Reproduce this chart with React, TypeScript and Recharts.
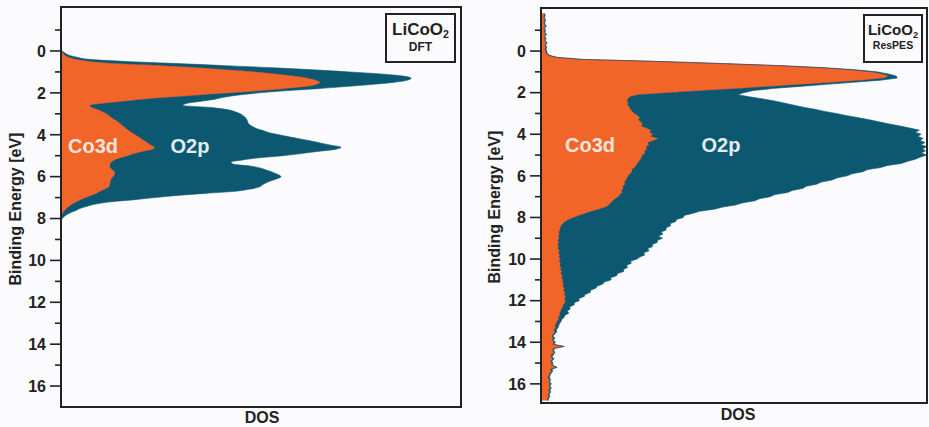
import React from "react";
import { AreaChart, Area, XAxis, YAxis, ReferenceArea } from "recharts";

// Energy grid: 0.1 eV steps starting at the first value
const E_STEP = 0.1;

// DFT projected DOS (arbitrary units, 0-100)
const DFT_E0 = -0.1;
const dftCo3d = [
  0, 0, 0.5, 1.0, 2.0, 3.8, 7.5, 14, 26, 35, 42, 49, 54, 58.5, 61.8, 63.8, 64.7, 63.8, 61.5, 56,
  50, 43, 35, 28, 21, 16, 11, 7.2, 7.8, 9.2, 10.4, 11.4, 12.1, 12.8, 13.6, 14.4, 15.0, 15.6, 16.3, 17.0,
  17.8, 18.6, 19.4, 20.2, 21.0, 21.8, 22.6, 23.4, 22.8, 20.5, 18.5, 16.8, 15.0, 13.5, 12.6, 12.3, 12.2, 12.4, 13.0, 13.5,
  13.4, 13.0, 12.6, 12.4, 12.3, 12.2, 12.0, 11.0, 9.8, 8.9, 7.6, 6.3, 5.0, 3.9, 3.0, 2.2, 1.5, 1.0, 0.6, 0.3,
  0.1, 0, 0, 0,
];
const dftO2p = [
  0, 0.3, 0.5, 1.0, 2.0, 3.2, 8.5, 15, 15, 18, 21, 23, 26, 27, 25.7, 22.7, 18.3, 13.7, 9.5, 8,
  6, 6.5, 9.5, 13, 17.5, 19, 20.5, 23.3, 29.7, 32.3, 33.1, 33.4, 33.5, 33.4, 32.9, 32.3, 32, 32.2, 32.5, 33.5,
  34.2, 35.9, 37.6, 39.6, 41.5, 43.2, 44.9, 46.6, 45.7, 43.5, 41.5, 38.7, 34.5, 32, 29.9, 30.7, 35.3, 37.6, 38.5, 39.5,
  40.8, 42, 41.4, 40.1, 38.9, 38.1, 37.5, 36, 33.7, 27.1, 21.4, 17.2, 13.5, 8.6, 6, 4.6, 3.5, 2.9, 2.0, 1.3,
  0.7, 0.3, 0.1, 0,
];

// Resonant photoemission (ResPES) decomposition
const RES_E0 = -1.8;
const resCo3d = [
  0.7, 0.9, 0.6, 1.0, 0.7, 0.8, 1.1, 0.7, 0.9, 0.8, 1.2, 0.8, 1.0, 0.9, 1.3, 1.0, 1.2, 1.0, 1.2, 1.3,
  1.8, 3.5, 10, 30, 46, 61, 72, 80, 85.5, 88.5, 90, 89, 83, 76, 68, 59, 51, 42, 33, 25,
  23, 22.5, 22.3, 22.6, 22.4, 23, 23.2, 23.6, 24.2, 25, 25.6, 25.2, 25.8, 26.3, 26, 27.2, 28.5, 28.2, 29, 28.4,
  30.5, 29.2, 27.6, 28, 27.2, 27.5, 26.8, 27, 26.3, 26, 25.8, 25.4, 25, 24.6, 24.2, 23.5, 23.6, 23, 22.6, 22.3,
  22, 21.6, 21.8, 21.2, 21.3, 20.9, 21, 20.4, 20, 19.2, 18.6, 18, 17.6, 16.8, 15, 13.2, 11.5, 9.8, 8.5, 7.2,
  6.2, 5.6, 5.2, 5.0, 4.9, 4.6, 4.8, 4.5, 4.7, 4.4, 4.6, 4.3, 4.5, 4.4, 4.8, 4.5, 4.9, 4.6, 5.0, 4.7,
  5.1, 4.8, 5.2, 5.0, 5.4, 5.1, 5.6, 5.3, 5.7, 5.5, 5.9, 5.6, 6.1, 5.8, 6.2, 6.0, 6.4, 6.1, 6.3, 6.2,
  5.8, 5.6, 5.3, 5.1, 4.8, 4.9, 4.5, 4.6, 4.1, 4.0, 3.6, 3.8, 3.3, 3.6, 3.2, 2.8, 3.1, 2.9, 3.4, 3.0,
  5.6, 3.2, 2.9, 3.3, 2.7, 2.6, 3.0, 2.5, 2.8, 2.6, 3.9, 2.4, 2.7, 2.2, 2.0, 1.8, 2.2, 1.9, 2.3, 2.0,
  2.4, 1.9, 2.2, 1.8, 2.0, 1.7, 1.6,
];
const resO2p = [
  0.3, 0.2, 0.3, 0.2, 0.3, 0.2, 0.3, 0.2, 0.3, 0.2, 0.3, 0.2, 0.3, 0.2, 0.3, 0.2, 0.3, 0.3, 0.3, 0.3,
  0.4, 0.7, 1.0, 1.0, 1.0, 1.0, 1.5, 1.5, 1.5, 1.5, 2.0, 3.3, 5, 5, 6, 8, 9, 13, 19.5, 26,
  31, 35, 38.2, 40.4, 43.1, 45, 47.8, 49.9, 52.3, 54, 56.4, 59.8, 61.7, 63.7, 67, 68.3, 69.5, 68.8, 69.5, 69.2,
  68.5, 69, 71.9, 70.4, 72.8, 71.3, 72.8, 71.5, 73.7, 72.2, 71.2, 69.6, 68.4, 65.2, 63.8, 61.1, 59.8, 57.6, 56.7, 54.3,
  53.4, 51, 49.6, 47.5, 46.6, 44.2, 42.9, 40.2, 39.4, 37.4, 36.8, 34.1, 32.8, 30.3, 29.9, 27.9, 27.9, 27.3, 28.4, 27.9,
  28.7, 27.8, 28.4, 27.4, 27.5, 26.5, 26.8, 25.9, 26.8, 25.8, 25.5, 24.5, 24.4, 23.2, 23.2, 22.1, 22, 21, 19.9, 18.5,
  18.3, 17.4, 17.2, 16.4, 16, 14.7, 14, 12.7, 12.5, 10.9, 10.1, 9, 8.1, 7, 6.6, 5.4, 4.8, 3.7, 3.6, 2.4,
  2.8, 1.8, 2.3, 1.7, 2.4, 1.3, 1.5, 0.8, 1.1, 0.8, 1.0, 0.6, 0.7, 0.5, 0.4, 0.3, 0.5, 0.3, 0.4, 0.3,
  0.5, 0.3, 0.4, 0.3, 0.5, 0.3, 0.4, 0.3, 0.3, 0.4, 0.3, 0.5, 0.3, 0.4, 0.3, 0.4, 0.3, 0.3, 0.4, 0.3,
  0.3, 0.4, 0.3, 0.3, 0.3, 0.3, 0.3,
];

const ENERGY_TICKS = [-1, 0, 1, 2, 3, 4, 5, 6, 7, 8, 9, 10, 11, 12, 13, 14, 15, 16];

const ORANGE = "#f26529";
const TEAL = "#0b5870";
const INK = "#222";
const FONT = "'Liberation Sans', Arial, Helvetica, sans-serif";

function toRows(e0: number, co3d: number[], o2p: number[]) {
  return co3d.map((v, i) => ({
    e: Math.round((e0 + i * E_STEP) * 10) / 10,
    co3d: v,
    o2p: o2p[i],
  }));
}

const dftRows = toRows(DFT_E0, dftCo3d, dftO2p);
const resRows = toRows(RES_E0, resCo3d, resO2p);

function EnergyTick(props: any) {
  const { y, payload, axisX } = props;
  const major = payload.value % 2 === 0;
  return (
    <g>
      <line x1={axisX - (major ? 11 : 6)} x2={axisX} y1={y} y2={y} stroke={INK} strokeWidth={1.6} />
      {major && (
        <text x={axisX - 15} y={y} dy="0.36em" textAnchor="end"
          fontFamily={FONT} fontWeight="bold" fontSize={16} fill={INK}>
          {payload.value}
        </text>
      )}
    </g>
  );
}

interface PanelProps {
  rows: { e: number; co3d: number; o2p: number }[];
  left: number;
  width: number;
  axisWidth: number;
  margin: { top: number; right: number; bottom: number; left: number };
  domain: [number, number];
  curve: "monotone" | "linear";
}

function DosPanel({ rows, left, width, axisWidth, margin, domain, curve }: PanelProps) {
  const axisX = margin.left + axisWidth;
  return (
    <div style={{ position: "absolute", left, top: 0 }}>
      <AreaChart layout="vertical" width={width} height={427} data={rows} margin={margin}>
        <XAxis type="number" domain={[0, 100]} hide />
        <YAxis type="number" dataKey="e" domain={domain} ticks={ENERGY_TICKS} interval={0}
          allowDataOverflow width={axisWidth} axisLine={false} tickLine={false}
          tick={(p: any) => <EnergyTick {...p} axisX={axisX} />} />
        <Area dataKey="co3d" stackId="dos" type={curve} fill={ORANGE} fillOpacity={1}
          stroke="#d8402c" strokeWidth={0.8} isAnimationActive={false} />
        <Area dataKey="o2p" stackId="dos" type={curve} fill={TEAL} fillOpacity={1}
          stroke={TEAL} strokeWidth={0.6} isAnimationActive={false} />
        <ReferenceArea x1={0} x2={100} y1={domain[0]} y2={domain[1]} fill="none"
          stroke={INK} strokeWidth={2} ifOverflow="visible" />
      </AreaChart>
    </div>
  );
}

const labelBase: React.CSSProperties = {
  position: "absolute",
  fontFamily: FONT,
  fontWeight: "bold",
  whiteSpace: "nowrap",
  transform: "translate(-50%, -50%)",
  lineHeight: 1,
};

function AxisTitles({ yX, yY, dosX, dosY }: { yX: number; yY: number; dosX: number; dosY: number }) {
  return (
    <>
      <div style={{ ...labelBase, left: yX, top: yY, fontSize: 16, color: INK,
        transform: "translate(-50%, -50%) rotate(-90deg)" }}>
        Binding Energy [eV]
      </div>
      <div style={{ ...labelBase, left: dosX, top: dosY, fontSize: 16, color: INK }}>DOS</div>
    </>
  );
}

function TagBox({ x, y, w, h, size, sub, subSize }: { x: number; y: number; w: number; h: number; size: number; sub: string; subSize: number }) {
  return (
    <div style={{ position: "absolute", left: x, top: y, width: w, height: h, boxSizing: "border-box",
      border: `2px solid ${INK}`, background: "#fbfbfd", fontFamily: FONT, fontWeight: "bold",
      color: INK, textAlign: "center", lineHeight: 1 }}>
      <div style={{ fontSize: size, marginTop: 6 }}>
        LiCoO<span style={{ fontSize: size * 0.62, position: "relative", top: "0.3em" }}>2</span>
      </div>
      <div style={{ fontSize: subSize, marginTop: 3 }}>{sub}</div>
    </div>
  );
}

function BandLabels({ co3d, o2p }: { co3d: [number, number]; o2p: [number, number] }) {
  return (
    <>
      <div style={{ ...labelBase, left: co3d[0], top: co3d[1], fontSize: 20, color: "#f8e4dc" }}>Co3d</div>
      <div style={{ ...labelBase, left: o2p[0], top: o2p[1], fontSize: 20, color: "#e2edf0" }}>O2p</div>
    </>
  );
}

export default function App() {
  return (
    <div style={{ position: "absolute", left: 0, top: 0, width: 929, height: 427,
      background: "#fbfbfd", overflow: "hidden" }}>
      <DosPanel rows={dftRows} left={0} width={470} axisWidth={61}
        margin={{ top: 7, right: 9, bottom: 20, left: 0 }} domain={[-2.1, 17]} curve="monotone" />
      <DosPanel rows={resRows} left={470} width={459} axisWidth={71}
        margin={{ top: 8, right: 2, bottom: 24, left: 0 }} domain={[-2.07, 16.92]} curve="linear" />

      <AxisTitles yX={16} yY={209} dosX={262} dosY={418} />
      <AxisTitles yX={495} yY={207} dosX={738} dosY={415} />

      <TagBox x={385} y={13} w={71} h={50} size={17} sub="DFT" subSize={12} />
      <TagBox x={863} y={14} w={60} h={49} size={15} sub="ResPES" subSize={10.5} />

      <BandLabels co3d={[93, 146]} o2p={[190, 146]} />
      <BandLabels co3d={[590, 145]} o2p={[721, 145]} />
    </div>
  );
}
